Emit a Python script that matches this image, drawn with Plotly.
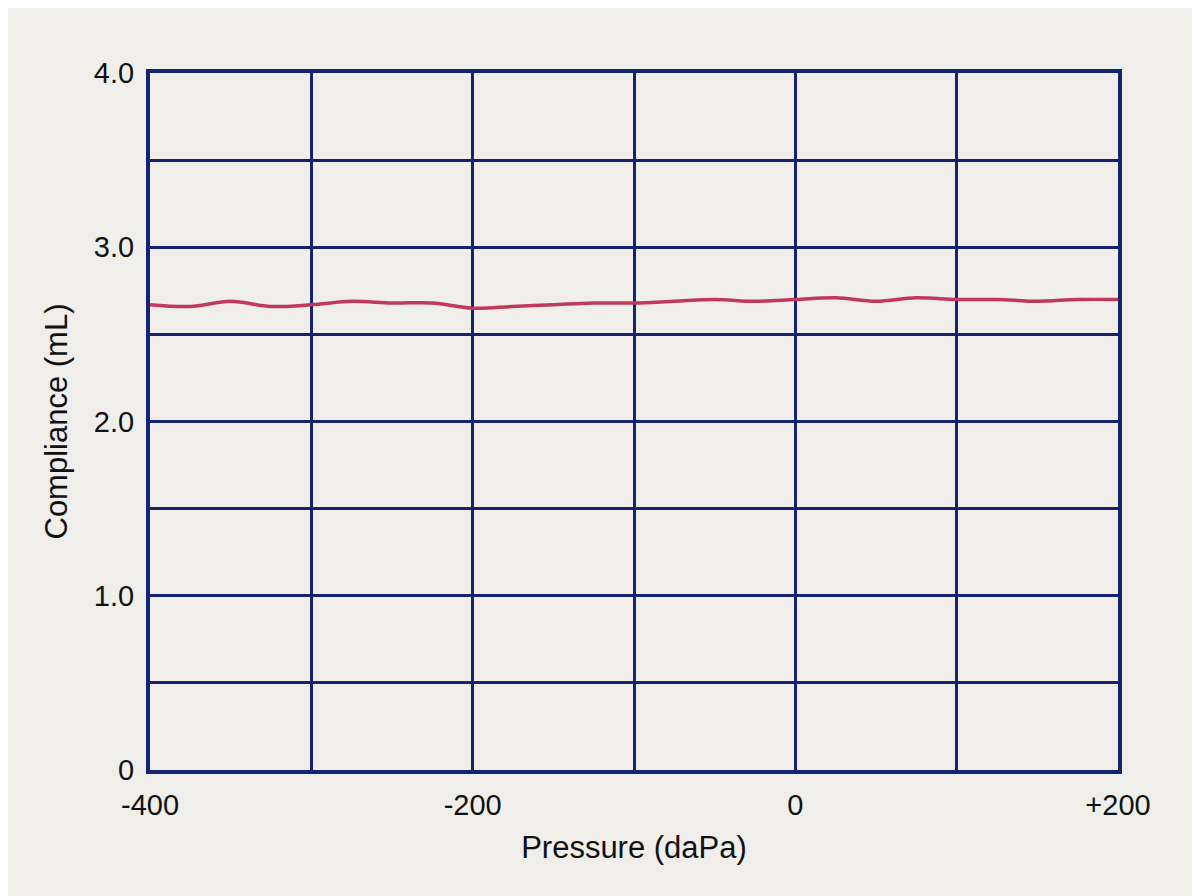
import plotly.graph_objects as go

pressure = [-400,-375,-350,-325,-300,-275,-250,-225,-200,-175,-150,-125,-100,-75,-50,-25,0,25,50,75,100,125,150,175,200]
compliance = [2.67,2.66,2.69,2.66,2.67,2.69,2.68,2.68,2.65,2.66,2.67,2.68,2.68,2.69,2.70,2.69,2.70,2.71,2.69,2.71,2.70,2.70,2.69,2.70,2.70]

x_ticks = [-400,-300,-200,-100,0,100,200]
x_labels = ["-400","","-200","","0","","+200"]
y_ticks = [0,0.5,1,1.5,2,2.5,3,3.5,4]
y_labels = ["0","","1.0","","2.0","","3.0","","4.0"]

navy = "#16236e"
paper = "#efeeeb"
fig = go.Figure(go.Scatter(x=pressure, y=compliance, mode="lines",
                           line=dict(color="#c0395a", width=3.5, shape="spline")))
axis_common = dict(showgrid=True, gridcolor=navy, gridwidth=2.5, showline=True,
                   linecolor=navy, linewidth=4, mirror=True, zeroline=False,
                   ticks="", tickfont=dict(family="Liberation Sans", size=29, color="#111"),
                   title_font=dict(family="Liberation Sans", size=31, color="#111"))
fig.update_xaxes(range=[-400,200], tickvals=x_ticks, ticktext=x_labels,
                 title_text="Pressure (daPa)", title_standoff=18, ticklabelstandoff=6, **axis_common)
fig.update_yaxes(range=[0,4], tickvals=y_ticks, ticktext=y_labels,
                 title_text="Compliance (mL)", title_standoff=18, ticklabelstandoff=6, **axis_common)
fig.update_layout(width=1200, height=896, margin=dict(l=142, r=90, t=65, b=134),
                  plot_bgcolor=paper, paper_bgcolor=paper, showlegend=False)
fig.write_html("out.html")
